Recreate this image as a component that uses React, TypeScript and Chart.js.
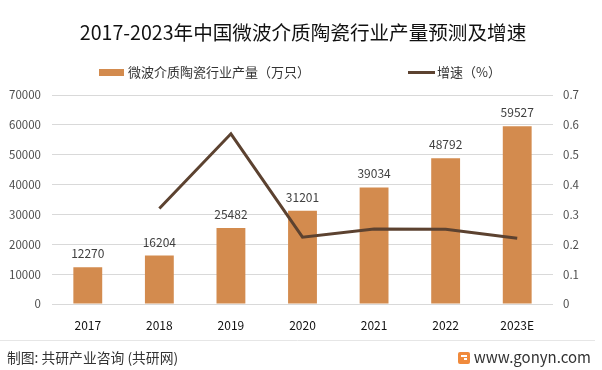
import React, { useEffect, useRef } from "react";
import { Chart, registerables } from "chart.js";

Chart.register(...registerables);

const categories = ["2017", "2018", "2019", "2020", "2021", "2022", "2023E"];
const production = [12270, 16204, 25482, 31201, 39034, 48792, 59527];
const growth = [null, 0.32, 0.57, 0.224, 0.251, 0.25, 0.22];
const leftTicks = [0, 10000, 20000, 30000, 40000, 50000, 60000, 70000];
const rightTicks = [0, 0.1, 0.2, 0.3, 0.4, 0.5, 0.6, 0.7];

const titleText = "2017-2023年中国微波介质陶瓷行业产量预测及增速";
const barLabel = "微波介质陶瓷行业产量（万只）";
const lineLabel = "增速（%）";
const footerLeft = "制图: 共研产业咨询 (共研网)";
const footerRight = "www.gonyn.com";

const BAR_COLOR = "#D38B4E";
const LINE_COLOR = "#5C4230";
const CJK = '"Noto Sans CJK SC", "Noto Sans", sans-serif';

const decorPlugin = {
  id: "decor",
  afterDraw(chart: any) {
    const ctx = chart.ctx;
    ctx.save();
    // title
    ctx.fillStyle = "#111";
    ctx.font = `19.6px ${CJK}`;
    ctx.textAlign = "center";
    ctx.textBaseline = "middle";
    ctx.fillText(titleText, 303, 33);
    // legend
    ctx.textAlign = "left";
    ctx.font = `13px ${CJK}`;
    ctx.fillStyle = BAR_COLOR;
    ctx.fillRect(99, 69, 25, 7);
    ctx.fillStyle = "#333";
    ctx.fillText(barLabel, 128, 72.5);
    ctx.strokeStyle = LINE_COLOR;
    ctx.lineWidth = 3;
    ctx.beginPath();
    ctx.moveTo(408, 72.5);
    ctx.lineTo(435, 72.5);
    ctx.stroke();
    ctx.fillText(lineLabel, 437, 72.5);
    // bar value labels
    const meta = chart.getDatasetMeta(0);
    ctx.font = `12px ${CJK}`;
    ctx.fillStyle = "#404040";
    ctx.textAlign = "center";
    ctx.textBaseline = "alphabetic";
    meta.data.forEach((el: any, i: number) => {
      ctx.fillText(String(production[i]), el.x, el.y - 9);
    });
    // footer
    ctx.strokeStyle = "#e6e6e6";
    ctx.lineWidth = 1;
    ctx.beginPath();
    ctx.moveTo(0, 340.5);
    ctx.lineTo(595, 340.5);
    ctx.stroke();
    ctx.textBaseline = "middle";
    ctx.textAlign = "left";
    ctx.font = `13.8px ${CJK}`;
    ctx.fillStyle = "#333";
    ctx.fillText(footerLeft, 7, 358);
    ctx.fillStyle = "#F08A3C";
    ctx.beginPath();
    ctx.roundRect(458, 352, 12, 12, 2);
    ctx.fill();
    ctx.fillStyle = "#fff";
    ctx.fillRect(461, 355, 6, 2);
    ctx.fillRect(464, 358, 3, 2);
    ctx.textAlign = "right";
    ctx.fillStyle = "#333";
    ctx.font = `15px ${CJK}`;
    ctx.fillText(footerRight, 591, 357);
    ctx.restore();
  },
};

export default function App() {
  const ref = useRef<HTMLCanvasElement>(null);
  useEffect(() => {
    document.body.style.margin = "0";
    const chart = new Chart(ref.current!, {
      type: "bar",
      data: {
        labels: categories,
        datasets: [
          {
            type: "bar",
            label: barLabel,
            data: production,
            backgroundColor: BAR_COLOR,
            yAxisID: "y",
            barPercentage: 0.84,
            categoryPercentage: 0.48,
            order: 2,
          },
          {
            type: "line",
            label: lineLabel,
            data: growth as any,
            borderColor: LINE_COLOR,
            borderWidth: 3,
            pointRadius: 0,
            tension: 0,
            yAxisID: "y1",
            order: 1,
          },
        ],
      },
      options: {
        responsive: false,
        animation: false,
        layout: { padding: { top: 95, bottom: 36, left: 0, right: 0 } },
        plugins: { legend: { display: false }, title: { display: false }, tooltip: { enabled: false } },
        scales: {
          x: {
            grid: { display: false },
            border: { display: false },
            ticks: { color: "#111", font: { size: 12, family: CJK }, padding: 6 },
            afterFit(s: any) { s.height = 30; },
          },
          y: {
            position: "left",
            min: 0,
            max: 70000,
            afterBuildTicks(s: any) { s.ticks = leftTicks.map((v) => ({ value: v })); },
            grid: { color: "#d9d9d9", drawTicks: false },
            border: { display: false },
            ticks: { color: "#4d4d4d", font: { size: 11.5, family: CJK }, padding: 11, callback: (v: any) => String(v) },
            afterFit(s: any) { s.width = 52; },
          },
          y1: {
            position: "right",
            min: 0,
            max: 0.7,
            afterBuildTicks(s: any) { s.ticks = rightTicks.map((v) => ({ value: v })); },
            grid: { display: false, drawTicks: false },
            border: { display: false },
            ticks: { color: "#4d4d4d", font: { size: 11.5, family: CJK }, padding: 10, callback: (v: any) => String(Math.round(Number(v) * 10) / 10) },
            afterFit(s: any) { s.width = 49; },
          },
        },
      },
      plugins: [decorPlugin],
    });
    return () => chart.destroy();
  }, []);
  return (
    <div style={{ position: "absolute", left: 0, top: 0, width: 602, height: 370, background: "#fff" }}>
      <canvas ref={ref} width={602} height={370} />
    </div>
  );
}
